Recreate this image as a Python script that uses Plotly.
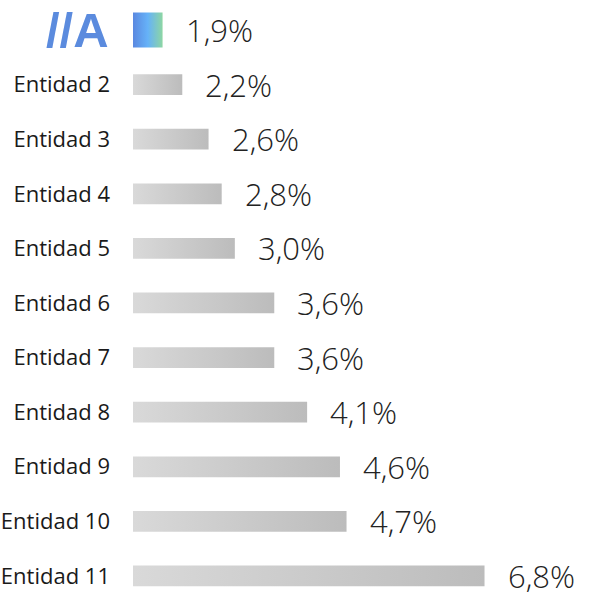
import plotly.graph_objects as go

categories = ["//A", "Entidad 2", "Entidad 3", "Entidad 4", "Entidad 5", "Entidad 6",
              "Entidad 7", "Entidad 8", "Entidad 9", "Entidad 10", "Entidad 11"]
values = [1.9, 2.2, 2.6, 2.8, 3.0, 3.6, 3.6, 4.1, 4.6, 4.7, 6.8]
highlight_index = 0

X_MIN, X_MAX = 1.45, 8.39
GRAY_SCALE = [[0, "#d9d9d9"], [1, "#bcbcbc"]]
BLUE_SCALE = [[0, "#5a88e0"], [0.5, "#66b2f8"], [1, "#8dd6a3"]]

fig = go.Figure()

for i, (cat, v) in enumerate(zip(categories, values)):
    half = 0.32 if i == highlight_index else 0.19
    xs = [X_MIN, v, v, X_MIN, X_MIN]
    ys = [i - half, i - half, i + half, i + half, i - half]
    fig.add_trace(go.Scatter(
        x=xs, y=ys, mode="lines", fill="toself",
        line=dict(width=0),
        fillgradient=dict(type="horizontal",
                          colorscale=BLUE_SCALE if i == highlight_index else GRAY_SCALE),
        hoverinfo="skip", showlegend=False,
    ))
    fig.add_annotation(
        x=v, y=i, xref="x", yref="y",
        text=f"{v:.1f}".replace(".", ",") + "%",
        showarrow=False, xanchor="left", yanchor="middle", xshift=21,
        font=dict(family="Open Sans, sans-serif", size=31,
                  color="#222222", weight=300),
    )

fig.add_annotation(
    x=0, y=highlight_index, xref="paper", yref="y",
    text="<b>" + categories[highlight_index] + "</b>",
    showarrow=False, xanchor="right", yanchor="middle", xshift=-22,
    font=dict(family="Liberation Sans, Arial", size=49, color="#5b8bde"),
)

fig.update_layout(
    width=589, height=612,
    margin=dict(l=133, r=0, t=0, b=0),
    plot_bgcolor="white", paper_bgcolor="white",
    xaxis=dict(range=[X_MIN, X_MAX], visible=False, fixedrange=True),
    yaxis=dict(
        range=[10.66, -0.55],
        tickvals=list(range(1, len(categories))),
        ticktext=categories[1:],
        showgrid=False, zeroline=False, showline=False, ticks="",
        ticklabelstandoff=22, fixedrange=True,
        tickfont=dict(family="Open Sans, Liberation Sans, Arial", size=22, color="#1a1a1a"),
    ),
)

fig.write_html("out.html", config={"displayModeBar": False},
               post_script="document.body.style.margin='0px';")
